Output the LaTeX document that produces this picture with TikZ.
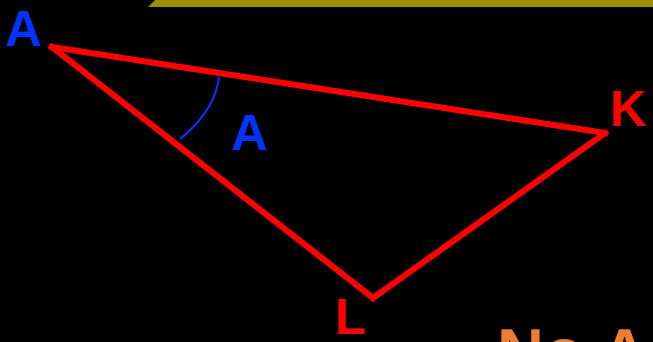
\documentclass[tikz,border=0pt]{standalone}
\usepackage{fontspec}
\setmainfont{Liberation Sans}
\definecolor{bgblack}{RGB}{0,0,0}
\definecolor{tred}{RGB}{255,0,0}
\definecolor{tblue}{RGB}{0,51,255}
\definecolor{torange}{RGB}{237,125,49}
\definecolor{tolive}{RGB}{153,144,0}
\begin{document}
\begin{tikzpicture}[x=1pt,y=-1pt,
  side/.style={draw=tred,line width=6pt,line cap=rect},
  lbl/.style={font=\fontsize{51}{51}\selectfont\bfseries,inner sep=0pt,anchor=base,text depth=0pt},
  arcline/.style={draw=tblue,line width=2pt}]
\useasboundingbox (0,0) rectangle (653,342);
\fill[bgblack] (0,0) rectangle (653,342);
\fill[tolive] (148,7) -- (155,0) -- (653,0) -- (653,7) -- cycle;
\coordinate (A) at (52,47);
\coordinate (K) at (605,133);
\coordinate (L) at (373,298);
\draw[side] (A) -- (K);
\draw[side] (A) -- (L);
\draw[side] (L) -- (K);
\coordinate (arcS) at (219,77);
\coordinate (arcE) at (180,139);
\draw[arcline] (arcS) .. controls (216,101) and (202,121) .. (arcE);
\node[lbl,text=tblue] (lA) at (23.5,47) {A};
\node[lbl,text=tred] (lK) at (628.5,127) {K};
\node[lbl,text=tred] (lL) at (351.5,334) {L};
\node[lbl,text=tblue] (lAng) at (249.5,150) {A};
\node[font=\fontsize{65}{65}\selectfont\bfseries,inner sep=0pt,anchor=base west,text=torange] (nt) at (497,374.5) {No A};
\end{tikzpicture}
\end{document}
